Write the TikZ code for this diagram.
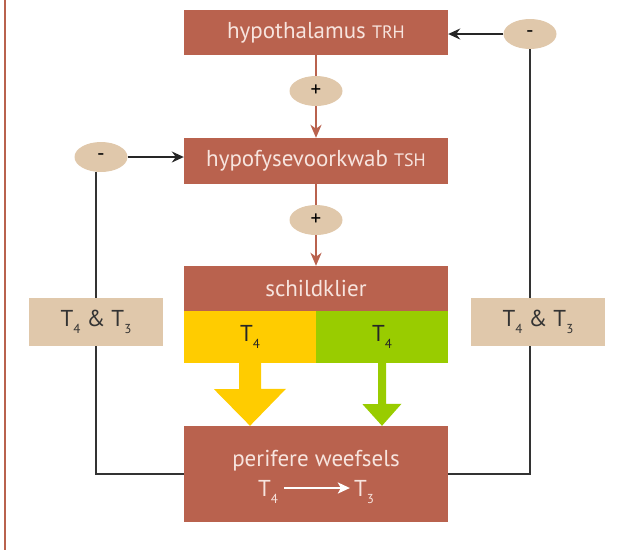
\documentclass[tikz,border=0pt]{standalone}
\usepackage{fontspec}
\setmainfont{PT Sans}
\usepackage{tikz}
\usetikzlibrary{arrows.meta,positioning,calc,shapes.geometric}
\definecolor{brick}{RGB}{185,98,78}
\definecolor{sand}{RGB}{224,200,171}
\definecolor{gold}{RGB}{255,204,0}
\definecolor{leaf}{RGB}{153,204,0}
\definecolor{blush}{RGB}{247,228,222}
\newcommand{\tsub}[1]{\raisebox{-0.65ex}{\fontsize{13}{13}\selectfont #1}}
\tikzset{
  organ/.style={fill=brick, text=blush, minimum width=264pt, inner sep=0pt,
                font=\fontsize{23}{26}\selectfont},
  signbub/.style={ellipse, fill=sand, minimum width=53pt, minimum height=30pt,
                  inner sep=0pt, font=\fontsize{21}{21}\selectfont},
  hormbox/.style={fill=sand, minimum width=134pt, minimum height=48pt, inner sep=0pt,
                  text=black!80, font=\fontsize{23}{26}\selectfont},
  stimarr/.style={-{Stealth[length=13pt,width=11pt,inset=4pt]}, draw=brick, line width=2.6pt},
  inhibarr/.style={-{Stealth[length=12pt,width=11pt,inset=4pt]}, draw=black!85, line width=1.5pt},
  fbline/.style={draw=black!80, line width=1.5pt},
}

\begin{document}
\begin{tikzpicture}[x=1pt,y=-1pt]
\useasboundingbox (0,0) rectangle (623,550);
% linker kantlijn
\draw[brick, line width=2.5pt] (5,0) -- (5,550);

\node[organ, minimum height=45pt] (hypo) at (316,32.5)
  {hypothalamus {\fontsize{18}{18}\selectfont TRH}};
\node[organ, minimum height=46pt] (hvk) at (316,161)
  {hypofysevoorkwab {\fontsize{18}{18}\selectfont TSH}};
\node[organ, minimum height=45pt] (schild) at (316,288.5) {schildklier};
\node[fill=gold, minimum width=132pt, minimum height=52pt, inner sep=0pt,
      text=black!85, font=\fontsize{23}{26}\selectfont] (t4y) at (250,337) {T\tsub{4}};
\node[fill=leaf, minimum width=132pt, minimum height=52pt, inner sep=0pt,
      text=black!85, font=\fontsize{23}{26}\selectfont] (t4g) at (382,337) {T\tsub{4}};
\node[organ, minimum height=96pt] (perif) at (316,474) {};
\node[text=blush, font=\fontsize{23}{26}\selectfont] (perifname) at (316,461) {perifere weefsels};
\node[text=blush, inner sep=2pt, font=\fontsize{23}{26}\selectfont] (pt4) at (268,492) {T\tsub{4}};
\node[text=blush, inner sep=2pt, font=\fontsize{23}{26}\selectfont] (pt3) at (364,492) {T\tsub{3}};

\node[signbub] (plus1) at (316,91) {+};
\node[signbub] (plus2) at (316,220) {+};
\node[signbub] (rmin) at (530,34) {-};
\node[signbub] (lmin) at (101,157) {-};

\node[hormbox] (lhorm) at (96,322) {T\tsub{4} \& T\tsub{3}};
\node[hormbox] (rhorm) at (538,322) {T\tsub{4} \& T\tsub{3}};

% stimulatie
\draw[brick, line width=2.6pt] (hypo.south) -- (plus1.north);
\draw[stimarr] (plus1.south) -- (hvk.north);
\draw[brick, line width=2.6pt] (hvk.south) -- (plus2.north);
\draw[stimarr] (plus2.south) -- (schild.north);

% remming
\draw[inhibarr] (rmin.west) -- (rmin.west -| hypo.east);
\draw[inhibarr] (lmin.east) -- (lmin.east -| hvk.west);

% terugkoppeling
\draw[fbline] (lhorm.north) -- (lhorm.north |- lmin.south);
\draw[fbline] (lhorm.south) |- (perif.west);
\draw[fbline] (rmin.south) -- (rmin.south |- rhorm.north);
\draw[fbline] (rmin.south |- rhorm.south) |- (perif.east);

% afgifte T4
\fill[gold] ($(t4y.south)+(-11,0)$) -- ++(0,26) -- ++(-25,0) -- (t4y.south |- perif.north)
  -- ++(36,-37) -- ++(-25,0) -- ($(t4y.south)+(11,0)$) -- cycle;
\fill[leaf] ($(t4g.south)+(-4,0)$) -- ++(0,41) -- ++(-15.5,0) -- (t4g.south |- perif.north)
  -- ++(19.5,-22) -- ++(-15.5,0) -- ($(t4g.south)+(4,0)$) -- cycle;

\draw[-{Stealth[length=12pt,width=11pt,inset=3pt]}, draw=white, line width=2.6pt]
  ($(pt4.east)+(4,-4)$) -- ($(pt3.west)+(-2,-4)$);
\end{tikzpicture}
\end{document}
